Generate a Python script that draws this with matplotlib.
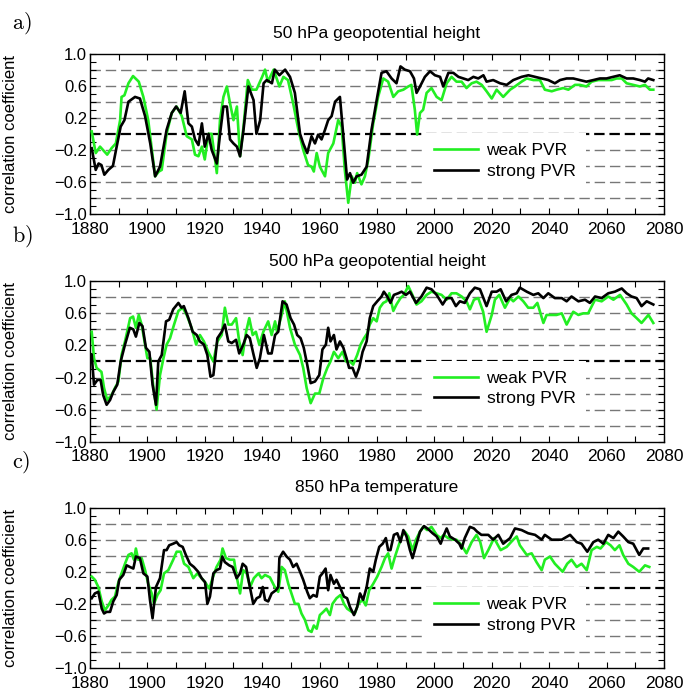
import matplotlib
matplotlib.use('Agg')
import matplotlib.pyplot as plt
from matplotlib.ticker import MultipleLocator, FixedLocator


"""
Running correlation of weak/strong PVR composites, three levels
"""

# ---- a) 50 hPa geopotential height
yr_a_weak = [1880.6, 1882, 1883.5, 1886, 1887.5, 1889, 1890.5, 1891, 1892, 1893.4, 1895, 1897, 1898.6,
             1900.3, 1902.7, 1904, 1905, 1906.7, 1908.5, 1910.2, 1912, 1913.7, 1915.5, 1916.6, 1917.8,
             1919, 1920, 1921.3, 1922.4, 1924.2, 1925.3, 1926.5, 1927.7, 1928.8, 1930, 1931.2, 1932.3,
             1933.5, 1935, 1936.4, 1938, 1940, 1941, 1942, 1944, 1946, 1947.4, 1949, 1950.8, 1952.6,
             1954.3, 1956, 1957.2, 1958, 1959, 1960.1, 1961.9, 1963, 1964.8, 1966.5, 1967.7, 1968.8,
             1970, 1971.2, 1972.3, 1973.1, 1974.6, 1975.8, 1977, 1978.7, 1980.4, 1982.2, 1983.9, 1985.7,
             1987.4, 1989.2, 1990.9, 1992, 1993.2, 1994, 1995, 1996.1, 1997.3, 1999, 2000.8, 2002.5,
             2004.3, 2006, 2007.7, 2009.5, 2011.2, 2013, 2014.7, 2016.5, 2018.2, 2020, 2021.7, 2024,
             2026.4, 2028.1, 2030.4, 2032.2, 2034.5, 2036.8, 2038.5, 2040.9, 2042.6, 2044.9, 2046.7,
             2049, 2050.7, 2053, 2054.8, 2057.1, 2059.4, 2061.8, 2063.5, 2065.3, 2067, 2069.3, 2071.6,
             2073.4, 2075.1, 2076.3]
r_a_weak = [0.03, -0.24, -0.16, -0.26, -0.18, -0.12, 0.17, 0.46, 0.48, 0.63, 0.72, 0.65, 0.46,
            0.17, -0.53, -0.47, -0.45, 0.0, 0.26, 0.34, 0.22, -0.03, -0.07, -0.26, -0.28,
            -0.16, -0.32, 0.0, 0.0, -0.49, 0.17, 0.46, 0.59, 0.38, 0.17, 0.34, -0.28,
            0.09, 0.67, 0.55, 0.55, 0.71, 0.80, 0.65, 0.80, 0.59, 0.71, 0.67, 0.38, 0.05,
            -0.20, -0.39, -0.41, -0.47, -0.24, -0.41, -0.53, -0.24, -0.12, 0.17, 0.09, -0.45,
            -0.86, -0.53, -0.61, -0.49, -0.63, -0.53, -0.32, 0.13, 0.46, 0.69, 0.65, 0.46,
            0.53, 0.55, 0.59, 0.61, 0.30, -0.01, 0.26, 0.30, 0.51, 0.57, 0.46, 0.42,
            0.63, 0.71, 0.65, 0.65, 0.57, 0.63, 0.65, 0.61, 0.53, 0.44, 0.55, 0.46,
            0.55, 0.59, 0.65, 0.69, 0.67, 0.67, 0.55, 0.53, 0.55, 0.57, 0.55,
            0.61, 0.61, 0.59, 0.65, 0.67, 0.67, 0.67, 0.69, 0.69, 0.63, 0.61, 0.59,
            0.61, 0.55, 0.55]

yr_a_strong = [1880.6, 1882, 1883, 1884, 1885, 1886.4, 1888, 1889.3, 1890.7, 1892, 1893.4, 1895.7,
               1897.4, 1899.2, 1901, 1902.7, 1904.4, 1906.7, 1908.5, 1910, 1911.6, 1913, 1914.3,
               1915.5, 1916.6, 1917.8, 1919, 1920, 1921.3, 1922.4, 1924.2, 1925.3, 1926.5, 1927.7,
               1928.8, 1930, 1931.2, 1932.3, 1933.5, 1935.2, 1937, 1938, 1939.3, 1940.5, 1941.6,
               1943.4, 1944.4, 1946, 1948, 1949.7, 1951.4, 1953.2, 1954.3, 1955.7, 1957.2, 1958.4,
               1959.5, 1960.7, 1961.9, 1963, 1964.2, 1965.4, 1967.1, 1968.3, 1969.6, 1970.6, 1971.7,
               1972.9, 1974.6, 1976.4, 1978.1, 1979.9, 1981.6, 1983.3, 1985.1, 1986.8, 1988.2,
               1989.7, 1991.5, 1992.9, 1993.8, 1995, 1996.7, 1998.5, 2000.2, 2002, 2003.1, 2004.9,
               2006.6, 2008.4, 2010.1, 2011.8, 2013.6, 2015.3, 2017.1, 2018.2, 2020.5, 2022.9,
               2025.2, 2027.5, 2030.4, 2032.8, 2035.1, 2037.4, 2039.7, 2042, 2043.8, 2046.1,
               2048.4, 2050.7, 2053, 2055.4, 2057.7, 2060, 2062.3, 2064.6, 2067, 2069.3, 2071.6,
               2073.4, 2074.5, 2076.3]
r_a_strong = [-0.18, -0.45, -0.37, -0.39, -0.51, -0.45, -0.40, -0.16, 0.09, 0.17, 0.40, 0.46,
              0.44, 0.22, -0.12, -0.53, -0.41, 0.05, 0.26, 0.34, 0.26, 0.53, 0.13,
              0.09, -0.07, -0.14, 0.13, -0.16, 0.0, -0.20, -0.37, -0.01, 0.34, 0.34,
              -0.07, -0.12, -0.16, -0.28, 0.05, 0.59, 0.42, 0.0, 0.17, 0.63, 0.67,
              0.63, 0.80, 0.73, 0.80, 0.71, 0.51, 0.0, -0.12, -0.24, -0.03, -0.12,
              -0.01, -0.07, 0.05, 0.17, 0.22, 0.40, 0.46, -0.03, -0.57, -0.49, -0.61,
              -0.53, -0.51, -0.41, 0.05, 0.42, 0.76, 0.78, 0.69, 0.63, 0.84,
              0.80, 0.78, 0.69, 0.51, 0.59, 0.71, 0.78, 0.73, 0.71, 0.59, 0.76,
              0.76, 0.71, 0.69, 0.67, 0.71, 0.69, 0.73, 0.65, 0.67, 0.63,
              0.61, 0.67, 0.71, 0.73, 0.71, 0.69, 0.67, 0.63, 0.67, 0.69,
              0.69, 0.67, 0.65, 0.67, 0.69, 0.69, 0.71, 0.73, 0.69, 0.69, 0.67,
              0.65, 0.69, 0.67]

# ---- b) 500 hPa geopotential height
yr_b_weak = [1880.6, 1881.4, 1882.3, 1884, 1884.9, 1886, 1887.5, 1888.7, 1889.9, 1891, 1892.2, 1894,
             1895, 1896, 1897, 1898, 1899.2, 1900, 1901, 1902, 1903.2, 1904.4, 1905.6, 1906.7,
             1907.9, 1909.3, 1910.8, 1912.3, 1913.7, 1915.4, 1917, 1918.3, 1919.7, 1921.2, 1923,
             1924.4, 1925.9, 1927, 1928.2, 1929.4, 1930.9, 1932, 1933.2, 1934.4, 1935.5, 1936.7,
             1937.8, 1939, 1940.4, 1942.1, 1943.3, 1944.5, 1945.2, 1946.8, 1947.9, 1949.7, 1951.4,
             1953.2, 1954.3, 1955.5, 1956.9, 1958.4, 1959.9, 1961.3, 1962.7, 1963.8, 1965, 1966.5,
             1968, 1969.2, 1970.6, 1971.7, 1973.1, 1974.3, 1975.5, 1976.6, 1977.5, 1978.7, 1979.9,
             1981, 1982.2, 1983.3, 1984.3, 1985.7, 1986.8, 1988.2, 1989.4, 1990.9, 1992.1, 1993.8,
             1995.5, 1997.3, 1999, 2000.8, 2002.5, 2004.3, 2006, 2007.7, 2009.5, 2011.2, 2012.4,
             2013.8, 2015.3, 2017, 2018.2, 2020, 2021.1, 2022.6, 2024.6, 2026.4, 2027.5, 2029.3,
             2031, 2032.7, 2034.5, 2035.9, 2038, 2039.1, 2040.9, 2042.6, 2044.4, 2046.1, 2048.4,
             2050.2, 2051.9, 2053.6, 2056, 2058.3, 2060.6, 2062.4, 2064.7, 2067, 2068.7, 2070.5,
             2072.2, 2074.6, 2076.3]
r_b_weak = [0.37, 0.04, -0.08, -0.13, -0.33, -0.48, -0.42, -0.33, -0.25, 0.08, 0.25, 0.54,
            0.56, 0.42, 0.58, 0.46, 0.21, 0.04, 0.04, -0.29, -0.60, -0.17, 0.04, 0.21,
            0.29, 0.46, 0.63, 0.67, 0.58, 0.42, 0.21, 0.33, 0.25, 0.12, 0.0,
            0.25, 0.33, 0.67, 0.46, 0.46, 0.54, 0.25, 0.08, 0.37, 0.54, 0.33,
            0.37, 0.21, 0.37, 0.50, 0.33, 0.50, 0.37, 0.58, 0.75, 0.42, 0.21,
            0.08, -0.08, -0.33, -0.52, -0.40, -0.40, -0.21, -0.08, 0.0, 0.12, 0.04,
            0.12, 0.0, 0.0, -0.04, 0.08, 0.21, 0.29, 0.35, 0.46, 0.54, 0.50,
            0.67, 0.73, 0.75, 0.85, 0.63, 0.71, 0.79, 0.83, 0.94, 0.85, 0.71,
            0.75, 0.83, 0.87, 0.85, 0.83, 0.77, 0.85, 0.85, 0.81, 0.75, 0.65,
            0.77, 0.79, 0.62, 0.37, 0.58, 0.77, 0.83, 0.67, 0.79, 0.75, 0.81,
            0.75, 0.67, 0.67, 0.73, 0.48, 0.58, 0.58, 0.58, 0.60, 0.46, 0.62,
            0.58, 0.60, 0.60, 0.77, 0.75, 0.81, 0.77, 0.83, 0.71, 0.60, 0.54,
            0.48, 0.58, 0.48]

yr_b_strong = [1880.6, 1881.4, 1882.6, 1883.7, 1884.6, 1885.8, 1887, 1888.1, 1889.5, 1890.7, 1892.2,
               1893.9, 1895.1, 1896, 1897.2, 1898.3, 1899.5, 1900.7, 1901.8, 1903, 1903.8, 1905,
               1906.5, 1907.6, 1909, 1910.8, 1911.9, 1912.7, 1914.3, 1915.8, 1917.2, 1918.3,
               1919.7, 1920.9, 1922, 1923, 1924.4, 1925.9, 1927, 1928.2, 1929.4, 1930.9, 1932,
               1933.4, 1934.6, 1935.7, 1936.9, 1938.1, 1939.2, 1940.6, 1942.1, 1943.3, 1944.5,
               1945.6, 1947.1, 1948.5, 1949.9, 1951.1, 1952.2, 1953.4, 1954.5, 1955.7, 1956.9,
               1958.4, 1959.9, 1961, 1962.2, 1963, 1963.8, 1965, 1965.9, 1967.1, 1968.3, 1969.4,
               1970.3, 1971.5, 1972.7, 1973.8, 1975, 1976.4, 1977.5, 1978.7, 1980.1, 1981.6,
               1982.4, 1983.6, 1984.7, 1985.9, 1987.4, 1988.6, 1990.1, 1991.5, 1993.6, 1995.5,
               1997.3, 1999, 2000.8, 2002.9, 2004.3, 2006, 2007.5, 2008.9, 2010.6, 2012.4, 2014.1,
               2015.9, 2018.2, 2020, 2021.7, 2023.1, 2025, 2026.9, 2028.7, 2029.8, 2032.2, 2034.5,
               2036.2, 2038, 2039.7, 2042, 2044.4, 2046.1, 2047.8, 2050.2, 2052.5, 2054.2, 2056,
               2058.3, 2060.6, 2062.9, 2065.3, 2067, 2068.7, 2070.5, 2072.2, 2074, 2076.3]
r_b_strong = [0.08, -0.29, -0.23, -0.23, -0.42, -0.54, -0.48, -0.38, -0.29, 0.0, 0.21,
              0.42, 0.40, 0.31, 0.48, 0.44, 0.17, 0.12, -0.29, -0.54, 0.0, 0.08,
              0.50, 0.52, 0.65, 0.73, 0.67, 0.69, 0.54, 0.37, 0.33, 0.25,
              0.21, 0.08, -0.19, -0.17, 0.29, 0.37, 0.46, 0.25, 0.23, 0.27, 0.10,
              0.21, 0.33, 0.29, 0.10, -0.08, 0.04, 0.33, 0.10, 0.10, 0.33,
              0.37, 0.75, 0.71, 0.54, 0.46, 0.33, 0.29, 0.17, -0.04, -0.27,
              -0.25, -0.17, 0.15, 0.21, 0.42, 0.25, 0.33, 0.15, 0.25, 0.17, 0.04,
              -0.08, -0.08, -0.19, -0.08, 0.12, 0.25, 0.54, 0.69, 0.75, 0.81,
              0.87, 0.81, 0.73, 0.83, 0.85, 0.87, 0.83, 0.87, 0.73, 0.81,
              0.92, 0.90, 0.83, 0.71, 0.79, 0.79, 0.69, 0.75, 0.73, 0.85, 0.92,
              0.90, 0.69, 0.87, 0.87, 0.90, 0.75, 0.83, 0.85, 0.92, 0.87, 0.83,
              0.85, 0.79, 0.85, 0.79, 0.79, 0.75, 0.81, 0.75, 0.77, 0.73, 0.81,
              0.79, 0.85, 0.87, 0.91, 0.85, 0.81, 0.79, 0.69, 0.75, 0.71]

# ---- c) 850 hPa temperature
yr_c_weak = [1880.6, 1881.7, 1882.9, 1884.1, 1885.2, 1886.4, 1887.5, 1888.7, 1889.9, 1891, 1892.2,
             1893.4, 1894.5, 1895.3, 1896, 1896.8, 1898, 1899.2, 1900.3, 1901.5, 1902.3, 1903.5,
             1904.6, 1905.8, 1907.3, 1909, 1910.2, 1911.6, 1912.8, 1914.3, 1916, 1917.4, 1918.9,
             1920.1, 1921.6, 1922.7, 1924.1, 1925.5, 1926.2, 1927.4, 1928.8, 1930.2, 1931.1,
             1932.3, 1933.4, 1934.6, 1935.8, 1937.1, 1938.7, 1939.8, 1941, 1942.7, 1944.4, 1945.6,
             1946.8, 1947.9, 1949.1, 1950.2, 1951.4, 1952.6, 1953.7, 1954.9, 1956.1, 1957.2, 1958,
             1959, 1960.1, 1961.3, 1962.4, 1963.6, 1964.5, 1965.9, 1967.3, 1968.5, 1969.6, 1971.2,
             1972.3, 1973.5, 1975, 1976.1, 1977.3, 1978.7, 1980.1, 1981.6, 1982.8, 1983.9, 1985.1,
             1986.3, 1987.4, 1988.6, 1989.7, 1990.9, 1992.4, 1993.6, 1995, 1996.1, 1997.5, 1999,
             2000.8, 2002.2, 2003.3, 2004.8, 2006.6, 2007.7, 2009.5, 2011.2, 2013, 2014.7, 2016,
             2017.3, 2018.8, 2020.8, 2023.1, 2025.2, 2027.5, 2028.7, 2029.8, 2032.2, 2033.9,
             2035.6, 2037.4, 2038.5, 2040.3, 2042, 2044.7, 2046.3, 2047.8, 2049.6, 2051.3, 2053.1,
             2054.8, 2056.6, 2057.9, 2059.8, 2061.4, 2062.9, 2064.5, 2065.8, 2067.6, 2069.3,
             2071.4, 2073.4, 2074.9]
r_c_weak = [0.14, 0.10, 0.01, -0.17, -0.28, -0.22, -0.15, -0.11, 0.07, 0.18, 0.30,
            0.41, 0.43, 0.35, 0.49, 0.35, 0.37, 0.22, 0.05, -0.07, -0.20, -0.09,
            -0.03, 0.18, 0.22, 0.35, 0.45, 0.45, 0.30, 0.26, 0.12, 0.18, 0.12,
            0.07, -0.01, 0.12, 0.26, 0.35, 0.49, 0.37, 0.35, 0.35, 0.14,
            -0.07, 0.22, 0.18, 0.01, 0.12, 0.18, 0.12, 0.16, 0.13, 0.01, -0.05,
            0.26, 0.22, 0.05, -0.07, -0.20, -0.20, -0.32, -0.40, -0.53, -0.55, -0.47,
            -0.51, -0.34, -0.30, -0.26, -0.34, -0.20, -0.13, -0.09, -0.20, -0.26, -0.30,
            -0.32, -0.20, -0.15, -0.22, -0.03, 0.05, 0.14, 0.26, 0.37, 0.43, 0.24,
            0.39, 0.51, 0.64, 0.70, 0.64, 0.47, 0.60, 0.70, 0.76, 0.72, 0.76,
            0.66, 0.62, 0.66, 0.62, 0.60, 0.60, 0.53, 0.43, 0.57, 0.66, 0.57,
            0.37, 0.47, 0.62, 0.47, 0.51, 0.60, 0.64, 0.53, 0.41, 0.43,
            0.32, 0.22, 0.35, 0.39, 0.30, 0.20, 0.30, 0.35, 0.26, 0.30, 0.22,
            0.47, 0.51, 0.49, 0.57, 0.53, 0.47, 0.53, 0.41, 0.30, 0.26,
            0.20, 0.28, 0.26]

yr_c_strong = [1880.6, 1881.7, 1882.9, 1884.1, 1884.9, 1885.8, 1887, 1888.1, 1889.3, 1890.2, 1891.6,
               1892.8, 1893.9, 1895.1, 1896, 1897.4, 1898.6, 1900, 1900.9, 1901.8, 1903, 1904.4,
               1905.8, 1906.7, 1907.6, 1909, 1910.2, 1911.1, 1912.3, 1913.4, 1914.8, 1916.2,
               1917.7, 1918.9, 1920.1, 1920.9, 1921.8, 1923, 1924.1, 1925.3, 1926.1, 1927, 1928.5,
               1929.7, 1931.1, 1932.3, 1933.2, 1934.4, 1935.5, 1936.9, 1938.1, 1939.2, 1940.2,
               1941, 1942.1, 1943.3, 1944.8, 1945.6, 1946, 1947.3, 1948.5, 1949.7, 1950.8, 1952,
               1953.2, 1954.3, 1955.7, 1956.6, 1957.8, 1959, 1960.1, 1961, 1962.1, 1963, 1963.8,
               1965, 1965.9, 1967.1, 1968.5, 1969.6, 1970.6, 1972, 1973.1, 1974.1, 1975.2, 1976.4,
               1977.5, 1978.7, 1979.6, 1980.8, 1982, 1983.1, 1983.9, 1984.7, 1985.9, 1987.1,
               1988.2, 1989.2, 1990.3, 1991.5, 1992.4, 1993.8, 1995, 1996.4, 1997.9, 1999.4,
               2000.8, 2002.2, 2003.1, 2004.3, 2005.4, 2007.2, 2008.7, 2009.5, 2010.6, 2012.4,
               2013.8, 2014.9, 2016.4, 2018.8, 2020.5, 2022.3, 2024, 2026.4, 2028.1, 2030.4,
               2032.7, 2035.1, 2037.4, 2038.5, 2040.9, 2044.4, 2047.3, 2049.6, 2051.3, 2053.3,
               2055.4, 2057.1, 2058.9, 2060.6, 2062.4, 2064.1, 2065.8, 2067.6, 2069.3, 2071.4,
               2072.8, 2074.5]
r_c_strong = [-0.13, -0.07, -0.05, -0.26, -0.32, -0.30, -0.30, -0.17, -0.09, 0.10, 0.16,
              0.28, 0.26, 0.24, 0.39, 0.37, 0.18, 0.14, -0.15, -0.38, 0.01, 0.12,
              0.47, 0.47, 0.53, 0.55, 0.57, 0.53, 0.51, 0.41, 0.30, 0.26,
              0.20, 0.12, 0.07, -0.20, -0.11, 0.18, 0.22, 0.24, 0.39, 0.32, 0.28,
              0.26, 0.12, 0.18, 0.30, 0.26, 0.05, -0.20, -0.13, -0.11, 0.01,
              -0.15, -0.17, -0.07, -0.03, 0.01, 0.37, 0.45, 0.39, 0.35, 0.26, 0.30,
              0.20, 0.10, -0.05, -0.13, -0.09, -0.11, 0.14, 0.18, 0.24, -0.03, 0.16,
              0.05, 0.10, 0.01, -0.11, -0.13, -0.24, -0.34, -0.24, -0.07, -0.15, 0.01,
              0.24, 0.20, 0.35, 0.51, 0.55, 0.62, 0.47, 0.47, 0.66, 0.68,
              0.57, 0.72, 0.64, 0.47, 0.37, 0.55, 0.70, 0.77, 0.73, 0.68,
              0.64, 0.55, 0.64, 0.74, 0.64, 0.60, 0.55, 0.49, 0.62, 0.76,
              0.74, 0.70, 0.66, 0.66, 0.60, 0.66, 0.55, 0.62, 0.74, 0.72,
              0.68, 0.66, 0.60, 0.66, 0.60, 0.60, 0.66, 0.57, 0.55, 0.45,
              0.57, 0.60, 0.55, 0.66, 0.62, 0.70, 0.64, 0.57, 0.55, 0.41,
              0.49, 0.49]

titles = ['50 hPa geopotential height', '500 hPa geopotential height', '850 hPa temperature']
panel_tags = ['a)', 'b)', 'c)']
legend_labels = ['weak PVR', 'strong PVR']
ytick_vals = [-1.0, -0.6, -0.2, 0.2, 0.6, 1.0]


if __name__ == '__main__':

    plt.rcParams['font.family'] = ['Liberation Sans', 'DejaVu Sans']
    plt.rcParams['font.size'] = 12.5
    plt.rcParams['mathtext.fontset'] = 'cm'
    plt.rcParams['lines.scale_dashes'] = False

    fig = plt.figure(figsize=(6.89, 6.96), dpi=100)

    panels = [(yr_a_weak, r_a_weak, yr_a_strong, r_a_strong),
              (yr_b_weak, r_b_weak, yr_b_strong, r_b_strong),
              (yr_c_weak, r_c_weak, yr_c_strong, r_c_strong)]
    bottoms = [0.6925, 0.3654, 0.0402]
    tag_y = [0.967, 0.661, 0.336]

    for i, (xw, yw, xs, ys) in enumerate(panels):

        ax = fig.add_axes([0.1306, bottoms[i], 0.833, 0.2305])

        # dashed reference lines
        for lev in [-0.8, -0.6, -0.4, -0.2, 0.2, 0.4, 0.6, 0.8]:
            ax.axhline(lev, color='#777777', lw=1.0, dashes=(7.5, 3.5), zorder=1)
        ax.axhline(0, color='black', lw=1.6, dashes=(7.5, 3.5), zorder=1)

        ax.plot(xw, yw, color='#22ee22', lw=1.9, zorder=3, label=legend_labels[0])
        ax.plot(xs, ys, color='black', lw=1.9, zorder=4, label=legend_labels[1])

        ax.set_xlim(1880, 2080)
        ax.set_ylim(-1, 1)
        ax.xaxis.set_major_locator(MultipleLocator(20))
        ax.xaxis.set_minor_locator(MultipleLocator(10))
        ax.yaxis.set_major_locator(FixedLocator(ytick_vals))
        ax.yaxis.set_minor_locator(MultipleLocator(0.1))
        ax.yaxis.set_major_formatter(lambda v, pos: f'{v:.1f}'.replace('-', '\u2212'))
        ax.tick_params(which='both', direction='in', top=True, right=True,
                       length=4, width=0.8)
        ax.tick_params(axis='x', pad=5.6, labelsize=12.5)
        ax.tick_params(axis='y', pad=2, labelsize=12)
        for sp in ax.spines.values():
            sp.set_linewidth(1.0)

        ax.set_title(titles[i], fontsize=12.5, pad=11)
        ax.set_ylabel('correlation coefficient', fontsize=12)
        ax.yaxis.set_label_coords(-0.125, 0.5)

        leg = ax.legend(loc='center left', bbox_to_anchor=(0.582, 0.33), borderaxespad=0,
                        frameon=True, fancybox=False, edgecolor='none', facecolor='white',
                        framealpha=1, handlelength=2.5, handletextpad=0.5,
                        labelspacing=0.3, borderpad=0.6, fontsize=12.5)
        leg.set_zorder(5)

        fig.text(0.018, tag_y[i], '$\\mathrm{' + panel_tags[i] + '}$', fontsize=16,
                 va='center', ha='left')

    plt.savefig('out.png', dpi=100)
    plt.close()
